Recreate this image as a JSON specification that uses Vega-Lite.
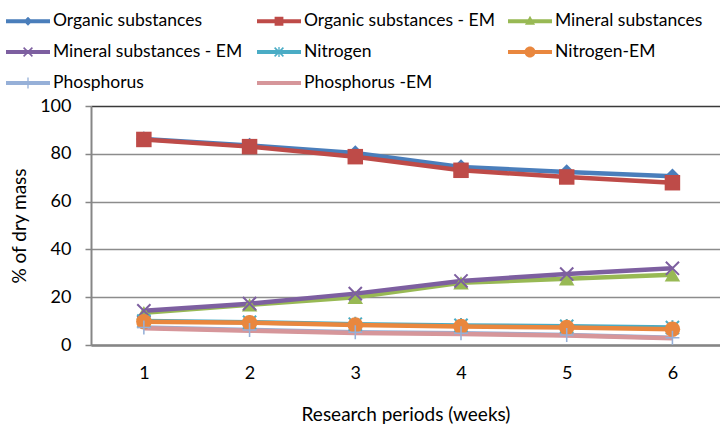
{
  "$schema": "https://vega.github.io/schema/vega-lite/v6.json",
  "width": 629,
  "height": 239,
  "autosize": {"type": "none"},
  "padding": {"left": 91, "top": 106, "right": 0, "bottom": 80},
  "background": "white",
  "config": {
    "font": "Lato",
    "view": {"stroke": null},
    "axis": {"labelFont": "Lato", "titleFont": "Lato", "labelColor": "#000000", "titleColor": "#000000", "titleFontWeight": "normal", "labelFontSize": 18, "titleFontSize": 19}
  },
  "data": {
    "values": [
      {"week": 1, "series": "Organic substances", "value": 86.2},
      {"week": 2, "series": "Organic substances", "value": 83.5},
      {"week": 3, "series": "Organic substances", "value": 80.3},
      {"week": 4, "series": "Organic substances", "value": 74.5},
      {"week": 5, "series": "Organic substances", "value": 72.4},
      {"week": 6, "series": "Organic substances", "value": 70.6},
      {"week": 1, "series": "Organic substances - EM", "value": 86.0},
      {"week": 2, "series": "Organic substances - EM", "value": 83.0},
      {"week": 3, "series": "Organic substances - EM", "value": 78.8},
      {"week": 4, "series": "Organic substances - EM", "value": 73.1},
      {"week": 5, "series": "Organic substances - EM", "value": 70.3},
      {"week": 6, "series": "Organic substances - EM", "value": 67.9},
      {"week": 1, "series": "Mineral substances", "value": 13.5},
      {"week": 2, "series": "Mineral substances", "value": 16.8},
      {"week": 3, "series": "Mineral substances", "value": 20.0},
      {"week": 4, "series": "Mineral substances", "value": 26.0},
      {"week": 5, "series": "Mineral substances", "value": 27.7},
      {"week": 6, "series": "Mineral substances", "value": 29.4},
      {"week": 1, "series": "Mineral substances - EM", "value": 14.3},
      {"week": 2, "series": "Mineral substances - EM", "value": 17.3},
      {"week": 3, "series": "Mineral substances - EM", "value": 21.5},
      {"week": 4, "series": "Mineral substances - EM", "value": 26.8},
      {"week": 5, "series": "Mineral substances - EM", "value": 29.7},
      {"week": 6, "series": "Mineral substances - EM", "value": 32.1},
      {"week": 1, "series": "Nitrogen", "value": 10.0},
      {"week": 2, "series": "Nitrogen", "value": 9.5},
      {"week": 3, "series": "Nitrogen", "value": 8.7},
      {"week": 4, "series": "Nitrogen", "value": 8.2},
      {"week": 5, "series": "Nitrogen", "value": 7.8},
      {"week": 6, "series": "Nitrogen", "value": 7.3},
      {"week": 1, "series": "Nitrogen-EM", "value": 9.7},
      {"week": 2, "series": "Nitrogen-EM", "value": 9.3},
      {"week": 3, "series": "Nitrogen-EM", "value": 8.4},
      {"week": 4, "series": "Nitrogen-EM", "value": 7.7},
      {"week": 5, "series": "Nitrogen-EM", "value": 7.3},
      {"week": 6, "series": "Nitrogen-EM", "value": 6.6},
      {"week": 1, "series": "Phosphorus", "value": 7.3},
      {"week": 2, "series": "Phosphorus", "value": 6.3},
      {"week": 3, "series": "Phosphorus", "value": 5.3},
      {"week": 4, "series": "Phosphorus", "value": 4.9},
      {"week": 5, "series": "Phosphorus", "value": 4.2},
      {"week": 6, "series": "Phosphorus", "value": 3.0},
      {"week": 1, "series": "Phosphorus -EM", "value": 7.0},
      {"week": 2, "series": "Phosphorus -EM", "value": 6.0},
      {"week": 3, "series": "Phosphorus -EM", "value": 5.0},
      {"week": 4, "series": "Phosphorus -EM", "value": 4.6},
      {"week": 5, "series": "Phosphorus -EM", "value": 4.0},
      {"week": 6, "series": "Phosphorus -EM", "value": 2.8}
    ]
  },
  "encoding": {
    "x": {
      "field": "week",
      "type": "quantitative",
      "scale": {"domain": [0.5, 6.45], "nice": false, "zero": false},
      "axis": {
        "values": [1, 2, 3, 4, 5, 6],
        "format": "d",
        "grid": false,
        "ticks": false,
        "domainColor": "#868686",
        "domainWidth": 2.5,
        "labelPadding": 19,
        "title": "Research periods (weeks)",
        "titlePadding": 23
      }
    },
    "y": {
      "field": "value",
      "type": "quantitative",
      "scale": {"domain": [0, 100], "nice": false},
      "axis": {
        "values": [0, 20, 40, 60, 80, 100],
        "grid": true,
        "gridColor": {"condition": {"test": "datum.value == 100", "value": "#3a3a3a"}, "value": "#8c8c8c"},
        "gridWidth": 1.6,
        "domainColor": "#868686",
        "domainWidth": 2,
        "tickColor": "#868686",
        "tickSize": 6,
        "tickWidth": 1.5,
        "labelPadding": 14,
        "title": "% of dry mass",
        "titlePadding": 10
      }
    }
  },
  "layer": [
    {
      "mark": {"type": "point", "filled": true, "opacity": 0},
      "encoding": {
        "color": {
          "field": "series",
          "type": "nominal",
          "scale": {
            "domain": ["Organic substances", "Organic substances - EM", "Mineral substances", "Mineral substances - EM", "Nitrogen", "Nitrogen-EM", "Phosphorus", "Phosphorus -EM"],
            "range": ["#4A7EBB", "#BE4B48", "#98B954", "#7D5FA0", "#4AACC5", "#E9873E", "#96B0D8", "#D6969A"]
          },
          "legend": {"orient": "none", "direction": "horizontal", "legendX": -85, "legendY": -107, "columns": 3, "gridAlign": "all", "title": null, "labelFont": "Lato", "labelFontSize": 17.5, "labelColor": "#000000", "symbolSize": 1936, "symbolOpacity": 1, "symbolStrokeWidth": 0, "columnPadding": 13, "rowPadding": -3, "labelOffset": 3, "labelLimit": 300}
        },
        "shape": {
          "field": "series",
          "type": "nominal",
          "scale": {
            "domain": ["Organic substances", "Organic substances - EM", "Mineral substances", "Mineral substances - EM", "Nitrogen", "Nitrogen-EM", "Phosphorus", "Phosphorus -EM"],
            "range": [
              "M-1,-0.09L-1,0.09L1,0.09L1,-0.09ZM0,-0.2L-0.2,0L0,0.2L0.2,0Z",
              "M-1,-0.09L-1,0.09L1,0.09L1,-0.09ZM-0.2,-0.2L-0.2,0.2L0.2,0.2L0.2,-0.2Z",
              "M-1,-0.09L-1,0.09L1,0.09L1,-0.09ZM0,-0.25L-0.23,0.16L0.23,0.16Z",
              "M-1,-0.09L-1,0.09L1,0.09L1,-0.09ZM-0.225,-0.175L0.175,0.225L0.225,0.175L-0.175,-0.225ZM0.175,-0.225L-0.225,0.175L-0.175,0.225L0.225,-0.175Z",
              "M-1,-0.09L-1,0.09L1,0.09L1,-0.09ZM-0.225,-0.175L0.175,0.225L0.225,0.175L-0.175,-0.225ZM0.175,-0.225L-0.225,0.175L-0.175,0.225L0.225,-0.175ZM-0.03,-0.23L-0.03,0.23L0.03,0.23L0.03,-0.23Z",
              "M-1,-0.09L-1,0.09L1,0.09L1,-0.09ZM-0.25,0A0.25,0.25,0,1,0,0.25,0A0.25,0.25,0,1,0,-0.25,0Z",
              "M-1,-0.09L-1,0.09L1,0.09L1,-0.09ZM-0.03,-0.25L-0.03,0.25L0.03,0.25L0.03,-0.25Z",
              "M-1,-0.09L-1,0.09L1,0.09L1,-0.09Z"
            ]
          },
          "legend": {"orient": "none", "direction": "horizontal", "legendX": -85, "legendY": -107, "columns": 3, "gridAlign": "all", "title": null, "labelFont": "Lato", "labelFontSize": 17.5, "labelColor": "#000000", "symbolSize": 1936, "symbolOpacity": 1, "symbolStrokeWidth": 0, "columnPadding": 13, "rowPadding": -3, "labelOffset": 3, "labelLimit": 300}
        }
      }
    },
    {
      "layer": [
        {
          "mark": {"type": "line", "strokeWidth": 4.5, "strokeJoin": "round"},
          "encoding": {
            "color": {"field": "series", "type": "nominal", "legend": null}
          }
        },
        {
          "transform": [{"filter": "datum.series != 'Phosphorus -EM'"}],
          "mark": {"type": "point", "filled": true, "opacity": 1, "size": 240},
          "encoding": {
            "color": {"field": "series", "type": "nominal", "legend": null},
            "shape": {
              "field": "series",
              "type": "nominal",
              "legend": null,
              "scale": {
                "domain": ["Organic substances", "Organic substances - EM", "Mineral substances", "Mineral substances - EM", "Nitrogen", "Nitrogen-EM", "Phosphorus"],
                "range": [
                  "diamond",
                  "square",
                  "triangle-up",
                  "M-0.942,-0.758L0.758,0.942L0.942,0.758L-0.758,-0.942ZM0.758,-0.942L-0.942,0.758L-0.758,0.942L0.942,-0.758Z",
                  "M-0.942,-0.758L0.758,0.942L0.942,0.758L-0.758,-0.942ZM0.758,-0.942L-0.942,0.758L-0.758,0.942L0.942,-0.758ZM-0.13,-0.95L-0.13,0.95L0.13,0.95L0.13,-0.95Z",
                  "circle",
                  "M-0.1,-0.9L-0.1,0.9L0.1,0.9L0.1,-0.9ZM-0.9,-0.1L-0.9,0.1L0.9,0.1L0.9,-0.1Z"
                ]
              }
            }
          }
        }
      ]
    }
  ],
  "resolve": {
    "scale": {"shape": "independent"},
    "legend": {"color": "independent", "shape": "independent"}
  }
}
